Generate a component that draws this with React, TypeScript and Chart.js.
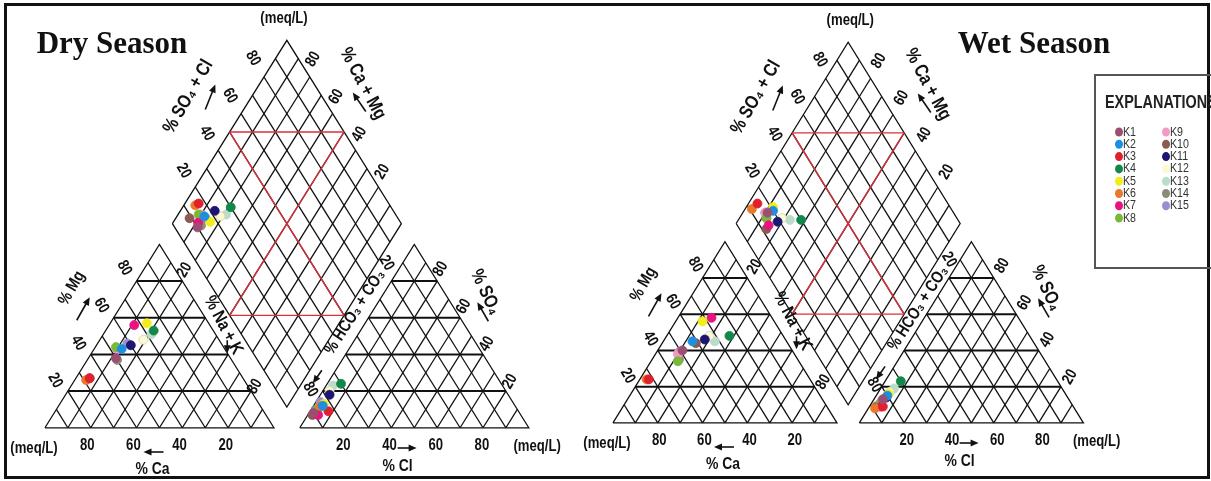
import React, { useEffect, useRef } from 'react';
import { Chart, registerables } from 'chart.js';
Chart.register(...registerables);

const CANVAS_W = 1211;
const CANVAS_H = 481;

// ---- data ----
const SAMPLES = ['K1', 'K2', 'K3', 'K4', 'K5', 'K6', 'K7', 'K8', 'K9', 'K10', 'K11', 'K12', 'K13', 'K14', 'K15'];
const COLORS = [
  '#9a4f72', '#1e8fe0', '#e0202c', '#12874a', '#f2ee1a', '#e8782c', '#e8137f', '#7ab83a',
  '#f29ac0', '#8c5a4e', '#1c1670', '#fbf8d6', '#b9dccb', '#8c8c78', '#9a8fd0',
];

// Dry season (% meq/L)
const DRY_CA = [50, 45, 67, 26, 27, 69, 33, 47, 47, 67, 40, 33, 28, 50, 41];
const DRY_MG = [38, 43, 27, 53, 57, 26, 56, 44, 43, 27, 45, 48, 51, 37, 46];
const DRY_CL = [2, 4, 8, 6, 4, 3, 4.5, 3, 3, 2, 4, 3, 3, 2, 2];
const DRY_SO4 = [8, 12, 9, 24, 13, 12, 7, 11, 12, 7, 18, 20, 23, 10, 14];

// Wet season (% meq/L)
const WET_CA = [49, 42, 72, 24, 32, 73, 27, 54, 52, 41, 36, 33, 32, 53, 51];
const WET_MG = [40, 45, 24, 48, 56, 24, 58, 34, 38, 44, 46, 48, 45, 35, 39];
const WET_CL = [4, 5, 6, 7, 5, 3, 5, 4, 4, 3, 5, 5, 6, 4, 4];
const WET_SO4 = [13, 15, 9, 23, 16, 8, 9, 11, 12, 9, 14, 17, 19, 11, 12];

const TICKS = [20, 40, 60, 80];
const GRID = [10, 20, 30, 40, 50, 60, 70, 80, 90];

// ---- geometry (layout) ----
type Geo = { x0: number; y0: number; sx: number; sy: number; g: number };
const DRY_GEO: Geo = { x0: 40, y0: 432, sx: 2.31, sy: 2.165, g: 11.3 };
const WET_GEO: Geo = { x0: 613, y0: 427, sx: 2.26, sy: 2.14, g: 10 };
const HH = Math.sqrt(3) / 2;

type P = { x: number; y: number };
const toPx = (G: Geo, ux: number, uy: number): P => ({ x: G.x0 + ux * G.sx, y: G.y0 - uy * G.sy });
const cat = (G: Geo, ca: number, mg: number): P => {
  const na = 100 - ca - mg;
  return toPx(G, na + mg / 2, mg * HH);
};
const an = (G: Geo, cl: number, so4: number): P => toPx(G, 100 + G.g + cl + so4 / 2, so4 * HH);
const dia = (G: Geo, a: number, c: number): P => {
  const Lx = 50 + G.g / 2;
  const Ly = 100 * HH + G.g * HH;
  return toPx(G, Lx + 50 * (a + c), Ly + 100 * HH * (a - c));
};

function gridSegments(G: Geo): P[][] {
  const s: P[][] = [];
  s.push([cat(G, 100, 0), cat(G, 0, 0), cat(G, 0, 100), cat(G, 100, 0)]);
  for (const k of GRID) {
    s.push([cat(G, k, 0), cat(G, k, 100 - k)]);
    s.push([cat(G, 100 - k, 0), cat(G, 0, 100 - k)]);
  }
  s.push([an(G, 0, 0), an(G, 100, 0), an(G, 0, 100), an(G, 0, 0)]);
  for (const k of GRID) {
    s.push([an(G, k, 0), an(G, k, 100 - k)]);
    s.push([an(G, 100 - k, 0), an(G, 0, 100 - k)]);
  }
  s.push([dia(G, 0, 0), dia(G, 1, 0), dia(G, 1, 1), dia(G, 0, 1), dia(G, 0, 0)]);
  for (const k of GRID) {
    s.push([dia(G, k / 100, 0), dia(G, k / 100, 1)]);
    s.push([dia(G, 0, k / 100), dia(G, 1, k / 100)]);
  }
  return s;
}
function horizSegments(G: Geo): P[][] {
  const s: P[][] = [];
  for (const t of TICKS) {
    s.push([cat(G, 100 - t, t), cat(G, 0, t)]);
    s.push([an(G, 0, t), an(G, 100 - t, t)]);
  }
  return s;
}
function redSegments(G: Geo): P[][] {
  return [
    [dia(G, 0.5, 0), dia(G, 0.5, 1)],
    [dia(G, 0, 0.5), dia(G, 1, 0.5)],
    [dia(G, 0.5, 0), dia(G, 1, 0.5)],
    [dia(G, 0, 0.5), dia(G, 0.5, 1)],
  ];
}

function samplePoints(G: Geo, CA: number[], MG: number[], CL: number[], SO4: number[], i: number): P[] {
  const na = 100 - CA[i] - MG[i];
  return [cat(G, CA[i], MG[i]), an(G, CL[i], SO4[i]), dia(G, (CL[i] + SO4[i]) / 100, na / 100)];
}

function buildDatasets() {
  const ds: any[] = [];
  SAMPLES.forEach((name, i) => {
    ds.push({
      label: name,
      data: [
        ...samplePoints(DRY_GEO, DRY_CA, DRY_MG, DRY_CL, DRY_SO4, i),
        ...samplePoints(WET_GEO, WET_CA, WET_MG, WET_CL, WET_SO4, i),
      ],
      showLine: false,
      pointRadius: 4.5,
      pointBackgroundColor: COLORS[i],
      pointBorderColor: i === 11 ? '#d6d3a0' : COLORS[i],
      pointBorderWidth: 0.8,
      order: 0,
    });
  });
  for (const G of [DRY_GEO, WET_GEO]) {
    for (const seg of redSegments(G)) {
      ds.push({ data: seg, showLine: true, borderColor: '#d8303a', borderWidth: 1.4, pointRadius: 0, order: 1 });
    }
    for (const seg of horizSegments(G)) {
      ds.push({ data: seg, showLine: true, borderColor: '#111', borderWidth: 2, pointRadius: 0, order: 2 });
    }
    for (const seg of gridSegments(G)) {
      ds.push({ data: seg, showLine: true, borderColor: '#111', borderWidth: 1.3, pointRadius: 0, order: 3 });
    }
  }
  return ds;
}

// ---- text helpers ----
const SANS = '"Liberation Sans", Arial, sans-serif';
function txt(ctx: CanvasRenderingContext2D, s: string, x: number, y: number, rot: number, font: string, squeeze = 0.82, color = '#111', align: CanvasTextAlign = 'center') {
  ctx.save();
  ctx.translate(x, y);
  ctx.rotate((rot * Math.PI) / 180);
  ctx.scale(squeeze, 1);
  ctx.font = font;
  ctx.fillStyle = color;
  ctx.textAlign = align;
  ctx.textBaseline = 'middle';
  ctx.fillText(s, 0, 0);
  ctx.restore();
}
function arrow(ctx: CanvasRenderingContext2D, x1: number, y1: number, x2: number, y2: number) {
  const ang = Math.atan2(y2 - y1, x2 - x1);
  ctx.save();
  ctx.strokeStyle = '#111';
  ctx.fillStyle = '#111';
  ctx.lineWidth = 1.6;
  ctx.beginPath();
  ctx.moveTo(x1, y1);
  ctx.lineTo(x2 - 4 * Math.cos(ang), y2 - 4 * Math.sin(ang));
  ctx.stroke();
  ctx.beginPath();
  ctx.moveTo(x2, y2);
  ctx.lineTo(x2 - 8 * Math.cos(ang) + 3.5 * Math.sin(ang), y2 - 8 * Math.sin(ang) - 3.5 * Math.cos(ang));
  ctx.lineTo(x2 - 8 * Math.cos(ang) - 3.5 * Math.sin(ang), y2 - 8 * Math.sin(ang) + 3.5 * Math.cos(ang));
  ctx.closePath();
  ctx.fill();
  ctx.restore();
}

function drawDiagramLabels(ctx: CanvasRenderingContext2D, G: Geo) {
  const NUM = `bold 16px ${SANS}`;
  const LAB = `bold 17px ${SANS}`;
  const MEQ = `bold 16px ${SANS}`;
  for (const t of TICKS) {
    const p = cat(G, t, 0);
    txt(ctx, String(t), p.x + 1, p.y + 14, 0, NUM);
  }
  const bl = cat(G, 100, 0);
  txt(ctx, '(meq/L)', bl.x - 6, bl.y + 17, 0, MEQ);
  const cm = cat(G, 50, 0);
  txt(ctx, '% Ca', cm.x - 3, cm.y + 37, 0, LAB);
  arrow(ctx, cm.x + 8, cm.y + 20, cm.x - 12, cm.y + 20);
  for (const t of TICKS) {
    const p = cat(G, 100 - t, t);
    txt(ctx, String(t), p.x - 8, p.y - 14, 60, NUM);
  }
  const lm = cat(G, 50, 50);
  txt(ctx, '% Mg', lm.x - 26, lm.y - 50, -60, LAB);
  arrow(ctx, lm.x - 21, lm.y - 18, lm.x - 8, lm.y - 41);
  const r20 = cat(G, 0, 80);
  txt(ctx, '20', r20.x + 6, r20.y - 12, -60, NUM);
  const r80 = cat(G, 0, 20);
  txt(ctx, '80', r80.x + 7, r80.y - 8, -60, NUM);
  const rm = cat(G, 0, 50);
  txt(ctx, '% Na + K', rm.x + 10, rm.y - 13, 62, `bold 18px ${SANS}`);
  arrow(ctx, rm.x + 14, rm.y + 2, rm.x + 14, rm.y + 15);

  const top = dia(G, 1, 0);
  txt(ctx, '(meq/L)', top.x, top.y - 17, 0, MEQ);
  for (const t of TICKS) {
    const p = dia(G, t / 100, 0);
    txt(ctx, String(t), p.x - 8, p.y - 15, 60, NUM);
    const q = dia(G, 1, 1 - t / 100);
    txt(ctx, String(t), q.x + 6, q.y - 14, -60, NUM);
  }
  const ul = dia(G, 0.5, 0);
  txt(ctx, '% SO₄ + Cl', ul.x - 38, ul.y - 33, -60, `bold 19px ${SANS}`);
  arrow(ctx, ul.x - 21, ul.y - 20, ul.x - 11, ul.y - 45);
  const ur = dia(G, 1, 0.5);
  txt(ctx, '% Ca + Mg', ur.x + 21, ur.y - 46, 62, `bold 19px ${SANS}`);
  arrow(ctx, ur.x + 24, ur.y - 18, ur.x + 11, ur.y - 37);

  for (const t of TICKS) {
    const p = an(G, t, 0);
    txt(ctx, String(t), p.x, p.y + 14, 0, NUM);
  }
  const br = an(G, 100, 0);
  txt(ctx, '(meq/L)', br.x + 9, br.y + 15, 0, MEQ);
  const am = an(G, 50, 0);
  txt(ctx, '% Cl', am.x - 15, am.y + 34, 0, LAB);
  arrow(ctx, am.x - 15, am.y + 16, am.x + 4, am.y + 16);
  for (const t of TICKS) {
    const p = an(G, 100 - t, t);
    txt(ctx, String(t), p.x + 5, p.y - 13, -60, NUM);
  }
  const arm = an(G, 50, 50);
  txt(ctx, '% SO₄', arm.x + 15, arm.y - 46, 65, `bold 19px ${SANS}`);
  arrow(ctx, arm.x + 18, arm.y - 17, arm.x + 7, arm.y - 36);
  const alm = an(G, 0, 50);
  txt(ctx, '% HCO₃ + CO₃', alm.x, alm.y - 26, -57, `bold 17px ${SANS}`);
  arrow(ctx, alm.x - 33, alm.y + 32, alm.x - 42, alm.y + 45);
  const a80 = an(G, 0, 20);
  txt(ctx, '80', a80.x - 10, a80.y - 5, 60, NUM);
  const a20 = an(G, 0, 80);
  txt(ctx, '20', a20.x - 3, a20.y - 19, 60, NUM);
}

const labelPlugin = {
  id: 'piperLabels',
  afterDraw(chart: any) {
    const ctx: CanvasRenderingContext2D = chart.ctx;
    ctx.save();
    ctx.strokeStyle = '#111';
    ctx.lineWidth = 3;
    ctx.strokeRect(5.5, 4.5, 1203, 473);
    ctx.restore();
    txt(ctx, 'Dry Season', 112, 45, 0, `bold 31px "Liberation Serif", "Times New Roman", serif`, 1);
    txt(ctx, 'Wet Season', 1034, 45, 0, `bold 31px "Liberation Serif", "Times New Roman", serif`, 1);
    drawDiagramLabels(ctx, DRY_GEO);
    drawDiagramLabels(ctx, WET_GEO);
    ctx.save();
    ctx.strokeStyle = '#555';
    ctx.lineWidth = 2;
    ctx.strokeRect(1095, 75, 130, 193);
    ctx.restore();
    txt(ctx, 'EXPLANATIONS', 1105, 103, 0, `bold 18px ${SANS}`, 0.8, '#222', 'left');
    SAMPLES.forEach((name, i) => {
      const col = i < 8 ? 0 : 1;
      const row = i < 8 ? i : i - 8;
      const mx = col === 0 ? 1119 : 1166;
      const my = 132 + row * 12.3;
      ctx.save();
      ctx.beginPath();
      ctx.ellipse(mx, my, 4, 4.5, 0, 0, Math.PI * 2);
      ctx.fillStyle = COLORS[i];
      ctx.fill();
      ctx.restore();
      txt(ctx, name, mx + 4, my, 0, `13px ${SANS}`, 0.82, '#333', 'left');
    });
  },
};

export default function App() {
  const ref = useRef<HTMLCanvasElement>(null);
  useEffect(() => {
    const chart = new Chart(ref.current as HTMLCanvasElement, {
      type: 'scatter',
      data: { datasets: buildDatasets() },
      options: {
        animation: false,
        responsive: false,
        devicePixelRatio: 1,
        events: [],
        layout: { padding: 0 },
        plugins: { legend: { display: false }, tooltip: { enabled: false } },
        scales: {
          x: { type: 'linear', min: 0, max: CANVAS_W, display: false },
          y: { type: 'linear', min: 0, max: CANVAS_H, reverse: true, display: false },
        },
      } as any,
      plugins: [labelPlugin],
    });
    return () => chart.destroy();
  }, []);
  return (
    <div style={{ position: 'absolute', left: 0, top: 0, background: '#fff' }}>
      <canvas ref={ref} width={CANVAS_W} height={CANVAS_H} style={{ display: 'block' }} />
    </div>
  );
}
